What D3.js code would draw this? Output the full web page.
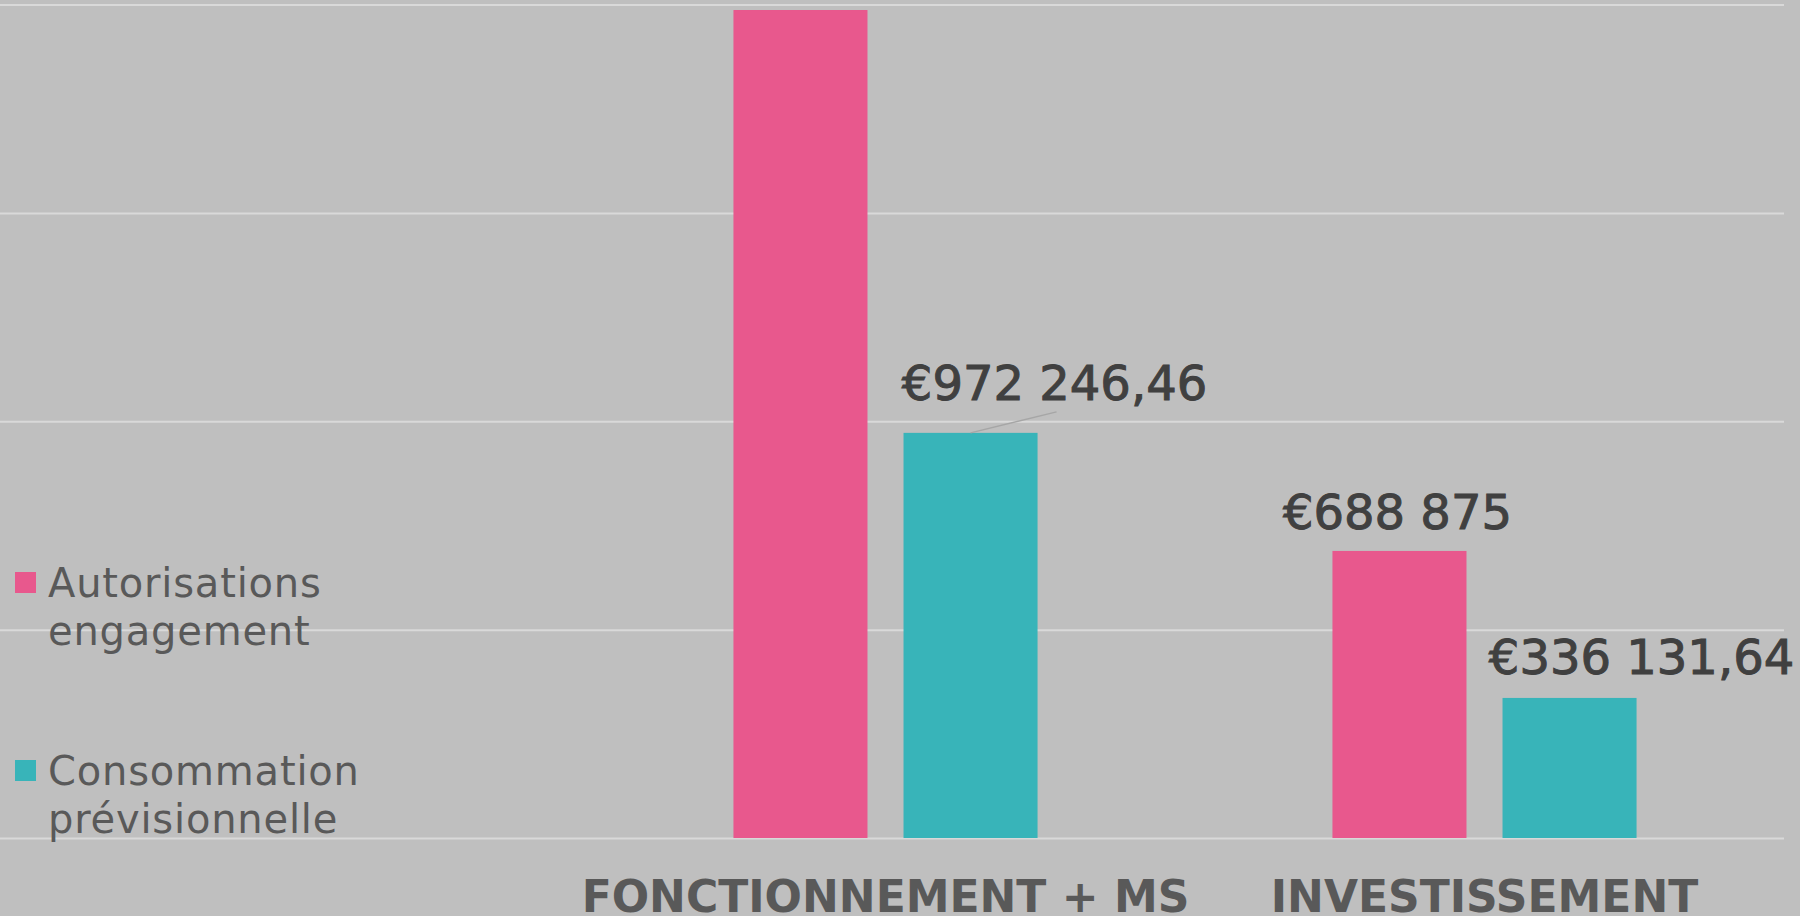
<!DOCTYPE html>
<html>
<head>
<meta charset="utf-8">
<script src="https://cdn.jsdelivr.net/npm/d3@7"></script>
<style>
  html, body { margin: 0; padding: 0; background: #bfbfbf; overflow: hidden; }
  svg { display: block; }
</style>
</head>
<body>
<svg id="chart"></svg>
<script>
'use strict';

// values
var categories = ['FONCTIONNEMENT + MS', 'INVESTISSEMENT'];
var seriesNames = ['Autorisations engagement', 'Consommation prévisionnelle'];
var legendLines = [['Autorisations', 'engagement'], ['Consommation', 'prévisionnelle']];
var autorisations = [1987000, 688875];
var consommation = [972246.46, 336131.64];
var gridValues = [0, 500000, 1000000, 1500000, 2000000];
var colors = ['#e8588d', '#38b4b9'];

var width = 1800, height = 916;
var margin = {top: 4.6, bottom: 78, left: 0, right: 16};

var locale = d3.formatLocale({decimal: ',', thousands: '\u00a0', grouping: [3], currency: ['€', '']});
function fmt(v) {
  return Number.isInteger(v) ? locale.format('$,.0f')(v) : locale.format('$,.2f')(v);
}

var svg = d3.select('#chart')
  .attr('width', width)
  .attr('height', height);

svg.append('rect')
  .attr('width', width)
  .attr('height', height)
  .attr('fill', '#bfbfbf');

var y = d3.scaleLinear()
  .domain([0, 2000000])
  .range([height - margin.bottom, margin.top]);

var x = d3.scaleBand()
  .domain(categories)
  .range([586, width - margin.right]);

var xSub = d3.scaleBand()
  .domain(seriesNames)
  .range([0, x.bandwidth()])
  .paddingInner(0.212)
  .paddingOuter(0.867);

// gridlines
var grid = svg.append('g')
  .attr('class', 'grid')
  .call(d3.axisLeft(y).tickValues(gridValues).tickSize(-(width - margin.right)).tickFormat(''));
grid.select('.domain').remove();
grid.selectAll('.tick line')
  .attr('stroke', '#d9d9d9')
  .attr('stroke-width', 2);

var data = [];
categories.forEach(function (c, i) {
  data.push({cat: c, series: seriesNames[0], value: autorisations[i], color: colors[0]});
  data.push({cat: c, series: seriesNames[1], value: consommation[i], color: colors[1]});
});

svg.append('g').selectAll('rect')
  .data(data)
  .enter().append('rect')
  .attr('x', function (d) { return x(d.cat) + xSub(d.series); })
  .attr('y', function (d) { return y(d.value); })
  .attr('width', xSub.bandwidth())
  .attr('height', function (d) { return y(0) - y(d.value); })
  .attr('fill', function (d) { return d.color; });

// label nudges (some labels were dragged in the original)
function nudge(d) {
  if (d.cat === categories[0] && d.series === seriesNames[1]) return [84, -33];
  if (d.cat === categories[1] && d.series === seriesNames[1]) return [72, -24];
  return [-2, -22];
}

// the label of the tallest bar falls above the picture, so it is not drawn
var labelData = data.filter(function (d) { return y(d.value) + nudge(d)[1] > 60; });

svg.append('g').selectAll('text')
  .data(labelData)
  .enter().append('text')
  .attr('x', function (d) { return x(d.cat) + xSub(d.series) + xSub.bandwidth() / 2 + nudge(d)[0]; })
  .attr('y', function (d) { return y(d.value) + nudge(d)[1]; })
  .attr('text-anchor', 'middle')
  .attr('font-family', '"DejaVu Sans", sans-serif')
  .attr('font-size', 48)
  .attr('fill', '#404040')
  .attr('stroke', '#404040')
  .attr('stroke-width', 1)
  .text(function (d) { return fmt(d.value); });

// leader line for the dragged label
var d1 = data[1];
svg.append('line')
  .attr('x1', x(d1.cat) + xSub(d1.series) + xSub.bandwidth() / 2)
  .attr('y1', y(d1.value))
  .attr('x2', x(d1.cat) + xSub(d1.series) + xSub.bandwidth() / 2 + 86)
  .attr('y2', y(d1.value) - 21)
  .attr('stroke', '#a6a6a6')
  .attr('stroke-width', 1.5);

// category labels
svg.append('g').selectAll('text')
  .data(categories)
  .enter().append('text')
  .attr('x', function (d) { return x(d) + x.bandwidth() / 2; })
  .attr('y', 912)
  .attr('text-anchor', 'middle')
  .attr('font-family', '"DejaVu Sans", sans-serif')
  .attr('font-weight', 'bold')
  .attr('font-size', 44)
  .attr('fill', '#595959')
  .text(function (d) { return d; });

// legend
var legend = svg.append('g').selectAll('g')
  .data(seriesNames)
  .enter().append('g')
  .attr('transform', function (d, i) { return 'translate(15,' + (572 + i * 188) + ')'; });

legend.append('rect')
  .attr('width', 21)
  .attr('height', 21)
  .attr('fill', function (d, i) { return colors[i]; });

legend.append('text')
  .attr('font-family', '"DejaVu Sans", sans-serif')
  .attr('font-size', 40)
  .attr('letter-spacing', 0.8)
  .attr('fill', '#595959')
  .selectAll('tspan')
  .data(function (d, i) { return legendLines[i]; })
  .enter().append('tspan')
  .attr('x', 33)
  .attr('y', function (d, j) { return 25 + j * 48; })
  .text(function (d) { return d; });
</script>
</body>
</html>
